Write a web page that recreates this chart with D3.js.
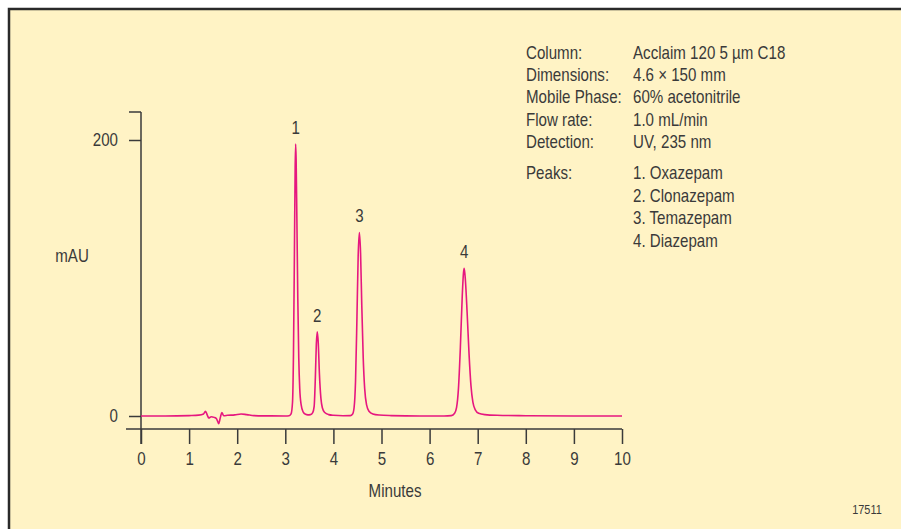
<!DOCTYPE html>
<html>
<head>
<meta charset="utf-8">
<script src="https://cdn.jsdelivr.net/npm/d3@7"></script>
<style>
  html, body { margin: 0; padding: 0; background: #ffffff; }
  svg { display: block; }
  text { font-family: "Liberation Sans", Arial, sans-serif; fill: #3a3a3a; }
</style>
</head>
<body>
<svg id="chart" width="901" height="529"></svg>
<script>
// ---- data ----
const timeMin = [0, 0.5, 1.0, 1.2, 1.3, 1.34, 1.38, 1.41, 1.46, 1.52, 1.57, 1.615, 1.65, 1.68, 1.72, 1.8, 1.95, 2.08, 2.2, 2.35, 2.6, 3.0,
  3.08, 3.12, 3.15, 3.17, 3.19, 3.205, 3.215, 3.225, 3.24, 3.26, 3.28, 3.30, 3.33, 3.37, 3.42, 3.47,
  3.52, 3.57, 3.60, 3.625, 3.645, 3.665, 3.685, 3.71, 3.74, 3.77, 3.82, 3.90, 4.0,
  4.2, 4.35, 4.40, 4.43, 4.46, 4.49, 4.515, 4.54, 4.565, 4.59, 4.62, 4.65, 4.69, 4.74, 4.82, 4.95, 5.2,
  5.8, 6.3, 6.45, 6.52, 6.56, 6.60, 6.64, 6.68, 6.705, 6.72, 6.745, 6.78, 6.82, 6.86, 6.90, 6.95, 7.02, 7.15, 7.4, 8.0, 9.0, 10.0];
const mAU = [0, 0, 0.3, 0.6, 1.5, 3.4, 0.5, -1.5, -0.5, -1.0, -2.0, -5.5, -1.0, 2.5, 0.2, 0.5, 0.8, 1.5, 1.0, 0.3, 0.1, 0,
  0.2, 1.5, 10, 45, 120, 180, 197, 186, 145, 85, 42, 20, 8, 3, 1.2, 0.8,
  1.0, 2.5, 7, 28, 52, 61, 53, 30, 13, 6, 2.5, 1, 0.5,
  0.2, 0.3, 1.5, 6, 25, 72, 116, 133, 118, 80, 42, 20, 8, 3.5, 1.5, 0.7, 0.3,
  0, 0, 0.3, 2, 6, 20, 50, 88, 104, 107, 98, 75, 45, 22, 10, 4.5, 2, 1, 0.5, 0.2, 0, 0];

const peakNames = ["1", "2", "3", "4"];
const peakTimes = [3.215, 3.665, 4.54, 6.72];
const peakHeights = [197, 61, 133, 107];

const xTicks = [0, 1, 2, 3, 4, 5, 6, 7, 8, 9, 10];
const yTicks = [0, 200];

const infoLabels = ["Column:", "Dimensions:", "Mobile Phase:", "Flow rate:", "Detection:"];
const infoValues = ["Acclaim 120 5 \u00B5m C18", "4.6 \u00D7 150 mm", "60% acetonitrile", "1.0 mL/min", "UV, 235 nm"];
const peaksLabel = "Peaks:";
const peakList = ["1. Oxazepam", "2. Clonazepam", "3. Temazepam", "4. Diazepam"];

// ---- drawing ----
const svg = d3.select("#chart");
const ink = "#3a3a3a";
const trace = "#E6177F";
const SX = 0.84;   // horizontal condensing (narrow type)
const FS = 18;

function ntext(parent, x, y, str, opts = {}) {
  const t = parent.append("text")
    .attr("transform", `translate(${x},${y}) scale(${SX},1)`)
    .attr("font-size", opts.size || FS)
    .attr("text-anchor", opts.anchor || "start")
    .text(str);
  return t;
}

svg.append("rect").attr("x", 9).attr("y", 9).attr("width", 1000).attr("height", 600)
  .attr("fill", "#FFF3C5").attr("stroke", "#2a2a2a").attr("stroke-width", 2.5);

const x = d3.scaleLinear().domain([0, 10]).range([141, 622]);
const y = d3.scaleLinear().domain([0, 200]).range([416, 140]);

// x axis
const xAxisY = 429;
const gx = svg.append("g").attr("transform", `translate(0,${xAxisY})`)
  .call(d3.axisBottom(x).tickValues(xTicks).tickFormat(d3.format("d")).tickSize(15).tickSizeOuter(0).tickPadding(8));
gx.select(".domain").remove();
gx.append("line").attr("x1", 126).attr("x2", x(10)).attr("y1", 0).attr("y2", 0)
  .attr("stroke", ink).attr("stroke-width", 1.5);
gx.selectAll(".tick line").attr("stroke", ink).attr("stroke-width", 1.5);
gx.selectAll(".tick text").attr("font-size", FS).attr("fill", ink)
  .attr("font-family", "'Liberation Sans', Arial, sans-serif")
  .attr("transform", `scale(${SX},1)`);

// y axis
const yTop = 112;
const gy = svg.append("g").attr("transform", `translate(${x(0)},0)`)
  .call(d3.axisLeft(y).tickValues(yTicks).tickFormat(d3.format("d")).tickSize(12).tickSizeOuter(0).tickPadding(10));
gy.select(".domain").remove();
gy.append("line").attr("x1", 0).attr("x2", 0).attr("y1", yTop).attr("y2", xAxisY + 15)
  .attr("stroke", ink).attr("stroke-width", 1.5);
gy.append("line").attr("x1", -12).attr("x2", 0).attr("y1", yTop).attr("y2", yTop)
  .attr("stroke", ink).attr("stroke-width", 1.5);
gy.selectAll(".tick line").attr("stroke", ink).attr("stroke-width", 1.5);
gy.selectAll(".tick text").attr("font-size", FS).attr("fill", ink)
  .attr("font-family", "'Liberation Sans', Arial, sans-serif")
  .attr("x", -23 / SX)
  .attr("transform", `scale(${SX},1)`);

ntext(svg, 72, 262, "mAU", { anchor: "middle" });
ntext(svg, 395, 497, "Minutes", { anchor: "middle" });
ntext(svg, 867, 514, "17511", { anchor: "middle", size: 13 });

// trace
const pts = timeMin.map((t, i) => [t, mAU[i]]);
const line = d3.line().x(d => x(d[0])).y(d => y(d[1])).curve(d3.curveMonotoneX);
svg.append("path").datum(pts).attr("d", line).attr("fill", "none")
  .attr("stroke", trace).attr("stroke-width", 1.6).attr("stroke-linejoin", "round");

// peak labels
peakNames.forEach((d, i) => {
  ntext(svg, x(peakTimes[i]), y(peakHeights[i]) - 10, d, { anchor: "middle" });
});

// info block
const info = svg.append("g");
infoLabels.forEach((s, i) => {
  ntext(info, 526, 59 + i * 22.2, s);
  ntext(info, 633, 59 + i * 22.2, infoValues[i]);
});
ntext(info, 526, 179, peaksLabel);
peakList.forEach((s, i) => {
  ntext(info, 633, 179 + i * 22.6, s);
});
</script>
</body>
</html>
